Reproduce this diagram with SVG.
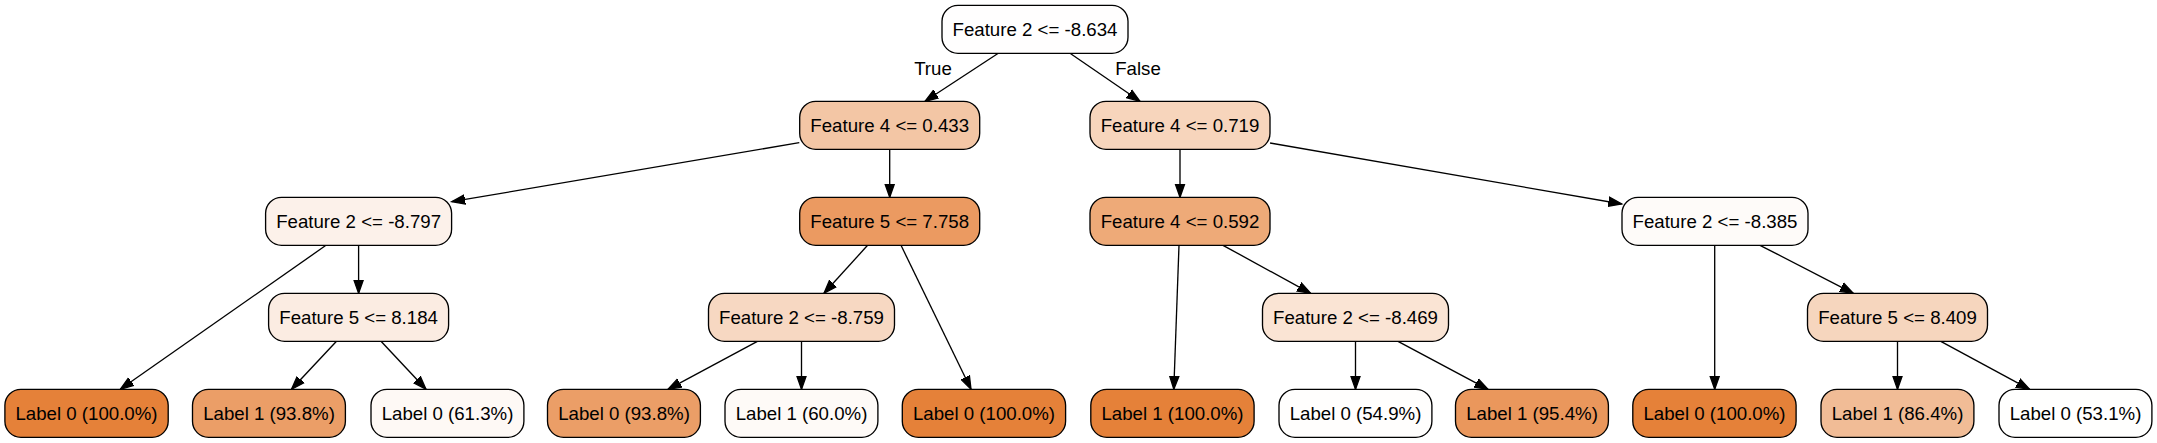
<svg xmlns="http://www.w3.org/2000/svg" width="2157" height="443" viewBox="0 0 2157 443">
<style>
.n rect{stroke:#000;stroke-width:1.33}
.n text{font-family:"Liberation Sans",Arial,Helvetica,sans-serif;font-size:18.67px;text-anchor:middle;fill:#000}
.e line{stroke:#000;stroke-width:1.33;fill:none;marker-end:url(#arr)}
.lbl{font-family:"Liberation Sans",Arial,Helvetica,sans-serif;font-size:18.67px;text-anchor:middle;fill:#000}
</style>
<defs>
<marker id="arr" markerUnits="userSpaceOnUse" markerWidth="16" markerHeight="12" viewBox="0 -6 16 12" refX="13.33" refY="0" orient="auto">
<path d="M0,-4.67 L13.33,0 L0,4.67 Z" fill="#000" stroke="#000" stroke-width="1.33"/>
</marker>
</defs>
<rect width="2157" height="443" fill="#fff"/>
<g id="edges" class="e">
<line x1="998.3" y1="53.3" x2="925" y2="101.3"/>
<line x1="1070" y1="53.3" x2="1140" y2="101.3"/>
<line x1="799.3" y1="142.7" x2="451.8" y2="201.7"/>
<line x1="889.7" y1="149.3" x2="889.7" y2="197.3"/>
<line x1="1180" y1="149.3" x2="1180" y2="197.3"/>
<line x1="1270" y1="143" x2="1621.7" y2="204"/>
<line x1="358.6" y1="245.3" x2="358.6" y2="293.3"/>
<line x1="326" y1="245.3" x2="120.3" y2="389.3"/>
<line x1="867.6" y1="245.3" x2="824" y2="293.3"/>
<line x1="901" y1="245.3" x2="971" y2="389.3"/>
<line x1="1179" y1="245.3" x2="1173.8" y2="389.3"/>
<line x1="1223" y1="245.3" x2="1310.6" y2="293.3"/>
<line x1="1714.7" y1="245.3" x2="1714.7" y2="389.3"/>
<line x1="1760" y1="245.3" x2="1853.3" y2="293.3"/>
<line x1="336.5" y1="341.3" x2="291.5" y2="389.3"/>
<line x1="381" y1="341.3" x2="426" y2="389.3"/>
<line x1="757.4" y1="341.3" x2="668" y2="389.3"/>
<line x1="801.5" y1="341.3" x2="801.5" y2="389.3"/>
<line x1="1355.5" y1="341.3" x2="1355.5" y2="389.3"/>
<line x1="1398" y1="341.3" x2="1488" y2="389.3"/>
<line x1="1897.5" y1="341.3" x2="1897.5" y2="389.3"/>
<line x1="1940.8" y1="341.3" x2="2029.6" y2="389.3"/>
<text class="lbl" x="933" y="75">True</text>
<text class="lbl" x="1138" y="75">False</text>
</g>
<g id="n0" class="n"><rect x="942" y="5.33" width="186" height="48" rx="16" fill="#fffefe"/><text x="1035" y="35.8">Feature 2 &lt;= -8.634</text></g>
<g id="n1" class="n"><rect x="799.7" y="101.33" width="180" height="48" rx="16" fill="#f3c6a5"/><text x="889.7" y="131.8">Feature 4 &lt;= 0.433</text></g>
<g id="n2" class="n"><rect x="1090" y="101.33" width="180" height="48" rx="16" fill="#f7d5bc"/><text x="1180" y="131.8">Feature 4 &lt;= 0.719</text></g>
<g id="n3" class="n"><rect x="265.6" y="197.33" width="186" height="48" rx="16" fill="#fcf1ea"/><text x="358.6" y="227.8">Feature 2 &lt;= -8.797</text></g>
<g id="n4" class="n"><rect x="799.7" y="197.33" width="180" height="48" rx="16" fill="#eb9a61"/><text x="889.7" y="227.8">Feature 5 &lt;= 7.758</text></g>
<g id="n5" class="n"><rect x="1090" y="197.33" width="180" height="48" rx="16" fill="#eeaa78"/><text x="1180" y="227.8">Feature 4 &lt;= 0.592</text></g>
<g id="n6" class="n"><rect x="1622" y="197.33" width="186" height="48" rx="16" fill="#fefbf9"/><text x="1715" y="227.8">Feature 2 &lt;= -8.385</text></g>
<g id="n7" class="n"><rect x="268.6" y="293.33" width="180" height="48" rx="16" fill="#fbece2"/><text x="358.6" y="323.8">Feature 5 &lt;= 8.184</text></g>
<g id="n8" class="n"><rect x="708.5" y="293.33" width="186" height="48" rx="16" fill="#f7d8c2"/><text x="801.5" y="323.8">Feature 2 &lt;= -8.759</text></g>
<g id="n9" class="n"><rect x="1262.5" y="293.33" width="186" height="48" rx="16" fill="#fae4d4"/><text x="1355.5" y="323.8">Feature 2 &lt;= -8.469</text></g>
<g id="n10" class="n"><rect x="1807.5" y="293.33" width="180" height="48" rx="16" fill="#f6d6be"/><text x="1897.5" y="323.8">Feature 5 &lt;= 8.409</text></g>
<g id="l1" class="n"><rect x="4.9" y="389.33" width="163.3" height="48" rx="16" fill="#e58139"/><text x="86.5" y="419.8">Label 0 (100.0%)</text></g>
<g id="l2" class="n"><rect x="192.5" y="389.33" width="152.9" height="48" rx="16" fill="#eb9e67"/><text x="269" y="419.8">Label 1 (93.8%)</text></g>
<g id="l3" class="n"><rect x="371" y="389.33" width="152.9" height="48" rx="16" fill="#fef9f5"/><text x="447.5" y="419.8">Label 0 (61.3%)</text></g>
<g id="l4" class="n"><rect x="547.5" y="389.33" width="152.9" height="48" rx="16" fill="#eb9e67"/><text x="624" y="419.8">Label 0 (93.8%)</text></g>
<g id="l5" class="n"><rect x="725" y="389.33" width="152.9" height="48" rx="16" fill="#fefaf7"/><text x="801.5" y="419.8">Label 1 (60.0%)</text></g>
<g id="l6" class="n"><rect x="902.3" y="389.33" width="163.3" height="48" rx="16" fill="#e58139"/><text x="984" y="419.8">Label 0 (100.0%)</text></g>
<g id="l7" class="n"><rect x="1090.8" y="389.33" width="163.3" height="48" rx="16" fill="#e58139"/><text x="1172.5" y="419.8">Label 1 (100.0%)</text></g>
<g id="l8" class="n"><rect x="1279" y="389.33" width="152.9" height="48" rx="16" fill="#fffefd"/><text x="1355.5" y="419.8">Label 0 (54.9%)</text></g>
<g id="l9" class="n"><rect x="1455.5" y="389.33" width="152.9" height="48" rx="16" fill="#ea975c"/><text x="1532" y="419.8">Label 1 (95.4%)</text></g>
<g id="l10" class="n"><rect x="1632.8" y="389.33" width="163.3" height="48" rx="16" fill="#e58139"/><text x="1714.5" y="419.8">Label 0 (100.0%)</text></g>
<g id="l11" class="n"><rect x="1821" y="389.33" width="152.9" height="48" rx="16" fill="#f1bc96"/><text x="1897.5" y="419.8">Label 1 (86.4%)</text></g>
<g id="l12" class="n"><rect x="1999" y="389.33" width="152.9" height="48" rx="16" fill="#fffffe"/><text x="2075.5" y="419.8">Label 0 (53.1%)</text></g>
</svg>
